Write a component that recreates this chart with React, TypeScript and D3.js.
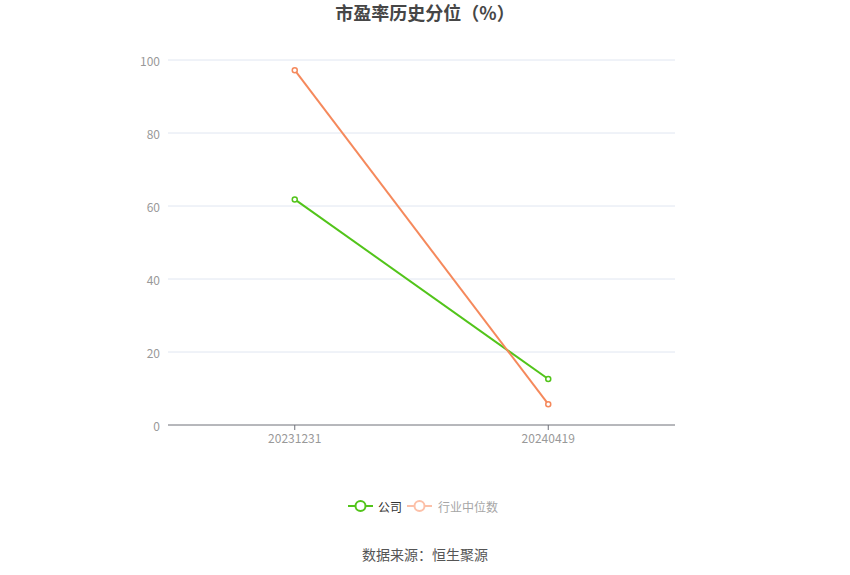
import * as d3 from 'd3';

const categories = ['20231231', '20240419'];
const companyValues = [61.8, 12.6];
const industryValues = [97.2, 5.7];
const yTicks = [0, 20, 40, 60, 80, 100];

const W = 850;
const H = 575;
const M = { left: 168, right: 175, top: 60, bottom: 150 };
const FONT = '"Noto Sans CJK SC", "Noto Sans", sans-serif';

const GREEN = '#52c41a';
const ORANGE = '#f5895c';

export default function App() {
  const x = d3
    .scaleBand<string>()
    .domain(categories)
    .range([M.left, W - M.right]);
  const y = d3
    .scaleLinear()
    .domain([0, 100])
    .range([H - M.bottom, M.top]);
  const cx = (c: string) => (x(c) ?? 0) + x.bandwidth() / 2;

  const line = d3
    .line<number>()
    .x((_, i) => cx(categories[i]))
    .y((d) => y(d));

  const series = [
    { name: 'company', values: companyValues, color: GREEN },
    { name: 'industry', values: industryValues, color: ORANGE },
  ];

  return (
    <svg
      width={W}
      height={H}
      style={{ position: 'absolute', left: 0, top: 0, fontFamily: FONT }}
    >
      <rect width={W} height={H} fill='#fff' />
      <text
        x={W / 2}
        y={20}
        textAnchor='middle'
        fontSize={18}
        fontWeight='bold'
        fill='#464646'
      >
        市盈率历史分位（%）
      </text>

      {/* grid + y labels */}
      {yTicks.map((t) => (
        <g key={t}>
          {t > 0 && (
            <line
              x1={M.left}
              x2={W - M.right}
              y1={y(t)}
              y2={y(t)}
              stroke='#e0e6f1'
            />
          )}
          <text
            x={M.left - 8}
            y={y(t)}
            textAnchor='end'
            dominantBaseline='central'
            fontSize={12}
            fill='#999'
          >
            {t}
          </text>
        </g>
      ))}

      {/* x axis */}
      <line
        x1={M.left}
        x2={W - M.right}
        y1={y(0)}
        y2={y(0)}
        stroke='#6e7079'
      />
      {categories.map((c) => (
        <g key={c}>
          <line
            x1={cx(c)}
            x2={cx(c)}
            y1={y(0)}
            y2={y(0) + 5}
            stroke='#6e7079'
          />
          <text
            x={cx(c)}
            y={y(0) + 18}
            textAnchor='middle'
            fontSize={12}
            fill='#999'
          >
            {c}
          </text>
        </g>
      ))}

      {/* series */}
      {series.map((s) => (
        <g key={s.name}>
          <path d={line(s.values) ?? ''} fill='none' stroke={s.color} strokeWidth={2} />
          {s.values.map((v, i) => (
            <circle
              key={i}
              cx={cx(categories[i])}
              cy={y(v)}
              r={2.5}
              fill='#fff'
              stroke={s.color}
              strokeWidth={1.5}
            />
          ))}
        </g>
      ))}

      {/* legend */}
      <g transform='translate(348,506)'>
        <line x1={0} x2={25} stroke={GREEN} strokeWidth={2} />
        <circle cx={12.5} r={5} fill='#fff' stroke={GREEN} strokeWidth={2} />
        <text x={30} dominantBaseline='central' fontSize={12} fill='#333'>
          公司
        </text>
      </g>
      <g transform='translate(407,506)'>
        <line x1={0} x2={25} stroke='#fcc0a8' strokeWidth={2} />
        <circle cx={12.5} r={5} fill='#fff' stroke='#fcc0a8' strokeWidth={2} />
        <text x={31} dominantBaseline='central' fontSize={12} fill='#a6a6a6'>
          行业中位数
        </text>
      </g>

      <text
        x={W / 2}
        y={554}
        textAnchor='middle'
        dominantBaseline='central'
        fontSize={14}
        fill='#555'
      >
        数据来源：恒生聚源
      </text>
    </svg>
  );
}
